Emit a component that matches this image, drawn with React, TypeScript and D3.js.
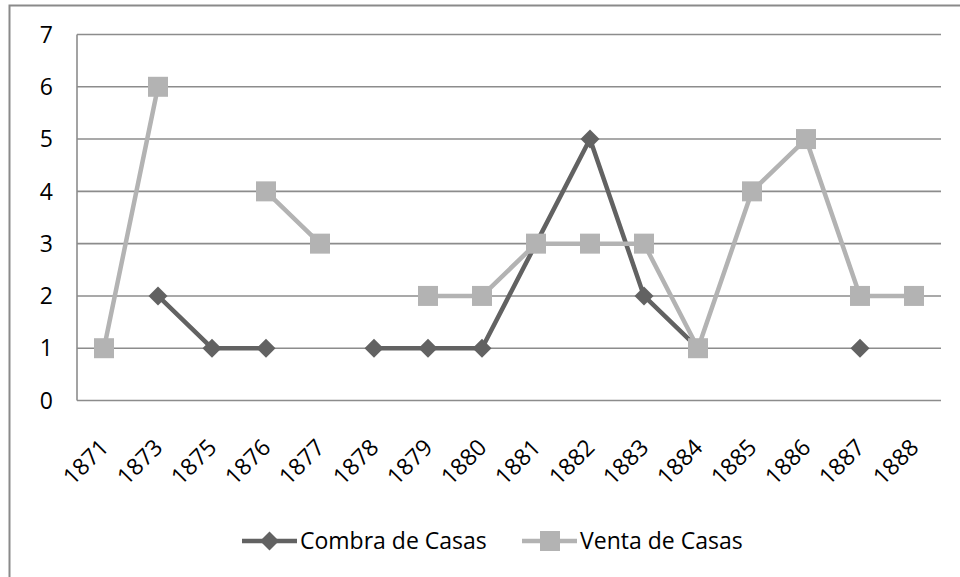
import React, { useEffect, useRef } from 'react';
import * as d3 from 'd3';

const years = ['1871', '1873', '1875', '1876', '1877', '1878', '1879', '1880',
  '1881', '1882', '1883', '1884', '1885', '1886', '1887', '1888'];
const compra: (number | null)[] = [null, 2, 1, 1, null, 1, 1, 1, 3, 5, 2, 1, null, null, 1, null];
const venta: (number | null)[] = [1, 6, null, 4, 3, null, 2, 2, 3, 3, 3, 1, 4, 5, 2, 2];
const yTicks = [0, 1, 2, 3, 4, 5, 6, 7];

const seriesNames = ['Combra de Casas', 'Venta de Casas'];
const darkColor = '#626262';
const lightColor = '#b3b3b3';
const FONT = '"Open Sans", Lato, sans-serif';
const FS = '23px';

export default function App() {
  const ref = useRef<SVGSVGElement>(null);

  useEffect(() => {
    const svg = d3.select(ref.current);
    svg.selectAll('*').remove();

    const left = 77, right = 941, top = 34.5, bottom = 400.5;

    // outer chart frame (runs off the picture on right and bottom)
    svg.append('rect')
      .attr('x', 9.5).attr('y', 5.5)
      .attr('width', 980).attr('height', 600)
      .attr('fill', 'white')
      .attr('stroke', '#8a8a8a').attr('stroke-width', 2);

    const x = d3.scaleBand().domain(years).range([left, right]);
    const y = d3.scaleLinear().domain([0, 7]).range([bottom, top]);
    const cx = (d: string) => (x(d) as number) + x.bandwidth() / 2;

    // gridlines
    svg.append('g').selectAll('line')
      .data(yTicks.filter(t => t > 0))
      .enter().append('line')
      .attr('x1', left).attr('x2', right)
      .attr('y1', d => y(d)).attr('y2', d => y(d))
      .attr('stroke', '#8c8c8c').attr('stroke-width', 1.6);

    // axes lines
    svg.append('line')
      .attr('x1', left).attr('x2', left).attr('y1', top).attr('y2', bottom)
      .attr('stroke', '#8c8c8c').attr('stroke-width', 1.6);
    svg.append('line')
      .attr('x1', left).attr('x2', right).attr('y1', bottom).attr('y2', bottom)
      .attr('stroke', '#8c8c8c').attr('stroke-width', 1.6);

    // y labels
    svg.append('g').selectAll('text')
      .data(yTicks)
      .enter().append('text')
      .attr('x', 53).attr('y', d => y(d))
      .attr('dy', '0.36em')
      .attr('text-anchor', 'end')
      .style('font-family', FONT).style('font-size', FS)
      .attr('fill', '#000')
      .text(d => d);

    // x labels
    svg.append('g').selectAll('text')
      .data(years)
      .enter().append('text')
      .attr('transform', d => 'translate(' + (cx(d) + 6) + ',' + 449 + ') rotate(-45)')
      .attr('text-anchor', 'end')
      .style('font-family', FONT).style('font-size', FS)
      .attr('fill', '#000')
      .text(d => d);

    const line = d3.line<number | null>()
      .defined(d => d !== null)
      .x((d, i) => cx(years[i]))
      .y(d => y(d as number));

    // dark series
    svg.append('path')
      .datum(compra)
      .attr('d', line)
      .attr('fill', 'none')
      .attr('stroke', darkColor).attr('stroke-width', 4.5)
      .attr('stroke-linejoin', 'round');
    svg.append('g').selectAll('path')
      .data(compra.map((v, i) => ({ v, yr: years[i] })).filter(d => d.v !== null))
      .enter().append('path')
      .attr('d', d3.symbol().type(d3.symbolSquare).size(180))
      .attr('transform', d => 'translate(' + cx(d.yr) + ',' + y(d.v as number) + ') rotate(45)')
      .attr('fill', darkColor);

    // light series
    svg.append('path')
      .datum(venta)
      .attr('d', line)
      .attr('fill', 'none')
      .attr('stroke', lightColor).attr('stroke-width', 4.5)
      .attr('stroke-linejoin', 'round');
    svg.append('g').selectAll('rect')
      .data(venta.map((v, i) => ({ v, yr: years[i] })).filter(d => d.v !== null))
      .enter().append('rect')
      .attr('x', d => cx(d.yr) - 10).attr('y', d => y(d.v as number) - 10)
      .attr('width', 20).attr('height', 20)
      .attr('fill', lightColor);

    // legend
    const legY = 541;
    const legX = [242, 522];
    seriesNames.forEach((name, i) => {
      const g = svg.append('g').attr('transform', 'translate(' + legX[i] + ',' + legY + ')');
      const col = i === 0 ? darkColor : lightColor;
      g.append('line').attr('x1', 0).attr('x2', 55).attr('y1', 0).attr('y2', 0)
        .attr('stroke', col).attr('stroke-width', 4.5);
      if (i === 0) {
        g.append('path')
          .attr('d', d3.symbol().type(d3.symbolSquare).size(180))
          .attr('transform', 'translate(27.5,0) rotate(45)')
          .attr('fill', col);
      } else {
        g.append('rect').attr('x', 18).attr('y', -10).attr('width', 20).attr('height', 20)
          .attr('fill', col);
      }
      g.append('text')
        .attr('x', 58).attr('y', 0).attr('dy', '0.36em')
        .style('font-family', FONT).style('font-size', FS)
        .attr('fill', '#000')
        .text(name);
    });
  }, []);

  return (
    <svg ref={ref} width={960} height={577}
      style={{ position: 'absolute', left: 0, top: 0, background: '#fff' }} />
  );
}
